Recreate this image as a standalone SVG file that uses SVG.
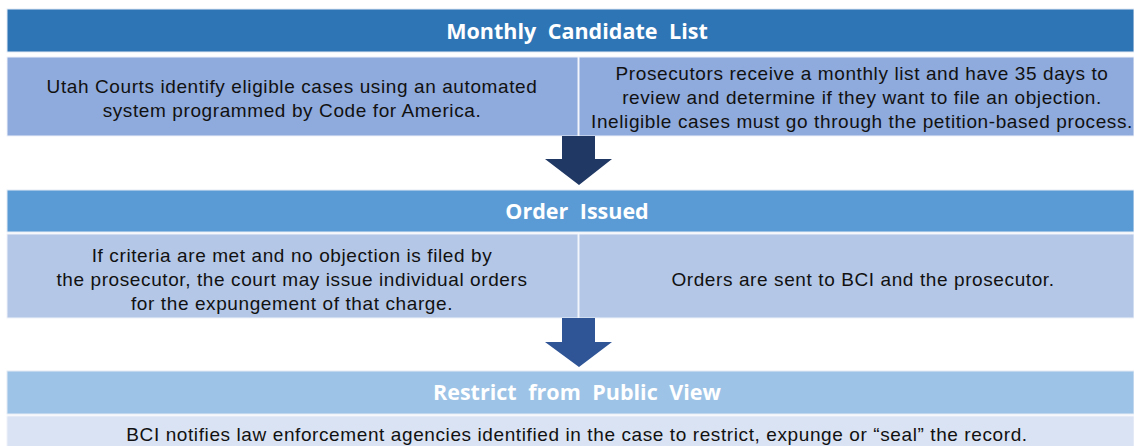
<svg xmlns="http://www.w3.org/2000/svg" width="1134" height="446" viewBox="0 0 1134 446">
  <style>
    .hdr { stroke: #E4EBF5; stroke-width: 1; }
    .cell { stroke: #EEF2F9; stroke-width: 1; }
    .title { font-family: "Open Sans", "Liberation Sans", sans-serif; font-weight: 700; font-size: 21.5px; fill: #FFFFFF; text-anchor: middle; word-spacing: 6px; }
    .body { font-family: "Liberation Sans", Arial, sans-serif; font-size: 19px; letter-spacing: 0.6px; fill: #111111; text-anchor: middle; }
  </style>
  <rect x="0" y="0" width="1134" height="446" fill="#FFFFFF"/>

  <!-- Step 1 -->
  <g id="monthly-candidate-list">
    <rect class="hdr" x="7" y="9" width="1127" height="43" fill="#2E75B6"/>
    <text class="title" x="577" y="39">Monthly Candidate List</text>
    <rect class="cell" x="7" y="57" width="571" height="79" fill="#8FAADC"/>
    <rect class="cell" x="579" y="57" width="555" height="79" fill="#8FAADC"/>
    <text class="body" x="292" y="93">Utah Courts identify eligible cases using an automated</text>
    <text class="body" x="292" y="117">system programmed by Code for America.</text>
    <text class="body" x="862" y="80">Prosecutors receive a monthly list and have 35 days to</text>
    <text class="body" x="862" y="104">review and determine if they want to file an objection.</text>
    <text class="body" x="862" y="128">Ineligible cases must go through the petition-based process.</text>
  </g>

  <!-- Step 2 -->
  <g id="order-issued">
    <rect class="hdr" x="7" y="190" width="1127" height="42" fill="#5B9BD5"/>
    <text class="title" x="577" y="219">Order Issued</text>
    <rect class="cell" x="7" y="234" width="571" height="84" fill="#B4C7E7"/>
    <rect class="cell" x="579" y="234" width="555" height="84" fill="#B4C7E7"/>
    <text class="body" x="292" y="262">If criteria are met and no objection is filed by</text>
    <text class="body" x="292" y="286">the prosecutor, the court may issue individual orders</text>
    <text class="body" x="292" y="310">for the expungement of that charge.</text>
    <text class="body" x="863" y="286">Orders are sent to BCI and the prosecutor.</text>
  </g>

  <!-- Step 3 -->
  <g id="restrict-from-public-view">
    <rect class="hdr" x="7" y="371" width="1127" height="43" fill="#9DC3E6"/>
    <text class="title" x="577" y="400">Restrict from Public View</text>
    <rect class="cell" x="7" y="416" width="1127" height="40" fill="#DAE3F3"/>
    <text class="body" x="577" y="441">BCI notifies law enforcement agencies identified in the case to restrict, expunge or “seal” the record.</text>
  </g>

  <!-- Block arrows between steps -->
  <g id="connectors">
    <polygon points="562,136 595,136 595,159 612,159 579,185 545,159 562,159" fill="#203864"/>
    <polygon points="562,318 595,318 595,342 612,342 579,367 545,342 562,342" fill="#2F5597"/>
  </g>
</svg>
